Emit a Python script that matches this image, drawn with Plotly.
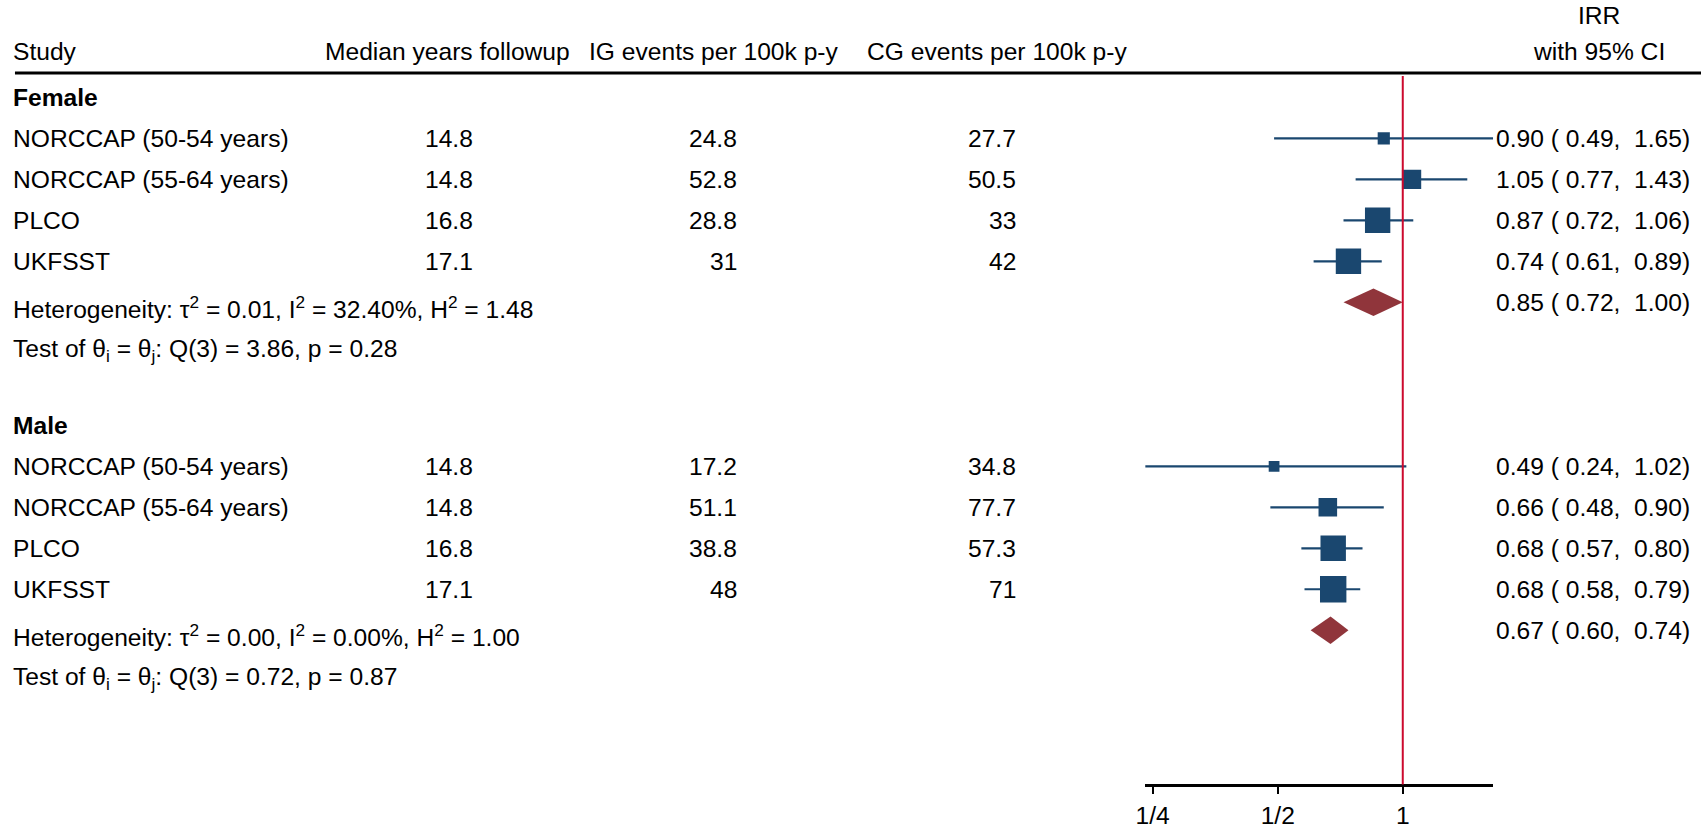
import math
import plotly.graph_objects as go

# ---- data -------------------------------------------------------------
studies = ["NORCCAP (50-54 years)", "NORCCAP (55-64 years)", "PLCO", "UKFSST"]

female_followup = [14.8, 14.8, 16.8, 17.1]
female_ig = [24.8, 52.8, 28.8, 31]
female_cg = [27.7, 50.5, 33, 42]
female_irr = [0.90, 1.05, 0.87, 0.74]
female_lo = [0.49, 0.77, 0.72, 0.61]
female_hi = [1.65, 1.43, 1.06, 0.89]
female_weight = [8.2, 20.6, 35.6, 35.6]
female_pooled = [0.85, 0.72, 1.00]
female_het = {"tau2": "0.01", "I2": "32.40%", "H2": "1.48", "Q": "3.86", "p": "0.28"}

male_followup = [14.8, 14.8, 16.8, 17.1]
male_ig = [17.2, 51.1, 38.8, 48]
male_cg = [34.8, 77.7, 57.3, 71]
male_irr = [0.49, 0.66, 0.68, 0.68]
male_lo = [0.24, 0.48, 0.57, 0.58]
male_hi = [1.02, 0.90, 0.80, 0.79]
male_weight = [6.4, 19.1, 35.8, 38.6]
male_pooled = [0.67, 0.60, 0.74]
male_het = {"tau2": "0.00", "I2": "0.00%", "H2": "1.00", "Q": "0.72", "p": "0.87"}

tick_vals = [0.25, 0.5, 1]
tick_text = ["1/4", "1/2", "1"]

# ---- styling ----------------------------------------------------------
W, H = 1701, 829
FONT = "Liberation Sans, Arial, Helvetica, sans-serif"
FS = 24.6
NAVY = "#1a476f"
MAROON = "#90353b"
REDLINE = "#cc0a2e"
NB = "\u00a0"

# column anchors (pixels)
X_LEFT = 2
X_FOLLOW = 468
X_IG = 734
X_CG = 1014
X_IRR = 1692


def px(x):
    return x / W


fig = go.Figure()
ann = []


def text(x, row, s, anchor="left", bold=False, yshift=0):
    ann.append(dict(
        x=px(x), y=row, xref="paper", yref="y", text=f"<b>{s}</b>" if bold else s,
        showarrow=False, xanchor=anchor, yanchor="middle", yshift=yshift,
        font=dict(family=FONT, size=FS, color="black"),
    ))


def fmt(v):
    return f"{v:g}"


def ci_text(est, lo, hi):
    return f"{est:.2f}{NB}({NB}{lo:.2f},{NB}{NB}{hi:.2f})"


def add_group(first_row, label, follow, ig, cg, irr, lo, hi, weight, pooled, het):
    text(X_LEFT, first_row, label, bold=True)
    rows = [first_row + 1 + i for i in range(len(studies))]
    for i, r in enumerate(rows):
        text(X_LEFT, r, studies[i])
        text(X_FOLLOW, r, fmt(follow[i]), anchor="right")
        text(X_IG, r, fmt(ig[i]), anchor="right")
        text(X_CG, r, fmt(cg[i]), anchor="right")
        text(X_IRR, r, ci_text(irr[i], lo[i], hi[i]), anchor="right")
        # confidence interval
        fig.add_trace(go.Scatter(
            x=[lo[i], hi[i]], y=[r, r], mode="lines",
            line=dict(color=NAVY, width=2.2), hoverinfo="skip", showlegend=False))
    # study estimates, square area proportional to weight
    fig.add_trace(go.Scatter(
        x=irr, y=rows, mode="markers",
        marker=dict(symbol="square", color=NAVY, opacity=1,
                    size=[4.25 * w ** 0.5 for w in weight], line=dict(width=0)),
        hoverinfo="skip", showlegend=False))
    # pooled estimate diamond
    pr = first_row + 1 + len(studies)
    est, plo, phi = pooled
    hh = 0.337
    fig.add_trace(go.Scatter(
        x=[plo, est, phi, est, plo], y=[pr, pr - hh, pr, pr + hh, pr],
        mode="lines", fill="toself", fillcolor=MAROON, line=dict(width=0, color=MAROON),
        hoverinfo="skip", showlegend=False))
    text(X_IRR, pr, ci_text(est, plo, phi), anchor="right")
    text(X_LEFT, pr, f"Heterogeneity: τ<sup>2</sup> = {het['tau2']}, I<sup>2</sup> = {het['I2']}, "
                     f"H<sup>2</sup> = {het['H2']}", yshift=-5)
    text(X_LEFT, pr + 1, f"Test of θ<sub>i</sub> = θ<sub>j</sub>: Q(3) = {het['Q']}, p = {het['p']}",
         yshift=-7)


add_group(0, "Female", female_followup, female_ig, female_cg, female_irr, female_lo,
          female_hi, female_weight, female_pooled, female_het)
add_group(8, "Male", male_followup, male_ig, male_cg, male_irr, male_lo,
          male_hi, male_weight, male_pooled, male_het)


# column headers (paper coordinates)
def head(x, y_px, s, anchor):
    ann.append(dict(
        x=px(x), y=1 - y_px / H, xref="paper", yref="paper", text=s,
        showarrow=False, xanchor=anchor, yanchor="middle",
        font=dict(family=FONT, size=FS, color="black"),
    ))


head(X_LEFT, 52, "Study", "left")
head(441, 52, "Median years followup", "center")
head(708, 52, "IG events per 100k p-y", "center")
head(993, 52, "CG events per 100k p-y", "center")
head(1598, 16, "IRR", "center")
head(1598, 52, "with 95% CI", "center")

shapes = [
    # rule under the header
    dict(type="line", xref="paper", yref="paper", x0=px(6), x1=1.0,
         y0=1 - 74 / H, y1=1 - 74 / H, line=dict(color="black", width=3)),
    # line of no effect
    dict(type="line", xref="x", yref="y domain", x0=1, x1=1, y0=0, y1=1,
         line=dict(color=REDLINE, width=2)),
]

x_lo, x_hi = 0.2395, 1.65

fig.update_layout(
    width=W, height=H, margin=dict(l=0, r=0, t=0, b=0),
    paper_bgcolor="white", plot_bgcolor="white",
    annotations=ann, shapes=shapes, showlegend=False,
    xaxis=dict(
        type="log", range=[math.log10(x_lo), math.log10(x_hi)],
        domain=[px(1142), px(1492)],
        tickvals=tick_vals, ticktext=tick_text,
        ticks="outside", ticklen=7, tickwidth=2, tickcolor="black",
        showline=True, linecolor="black", linewidth=2.5,
        showgrid=False, zeroline=False,
        tickfont=dict(family=FONT, size=FS, color="black"),
        fixedrange=True,
    ),
    yaxis=dict(
        range=[16.76, -0.518], domain=[1 - 794 / H, 1 - 77 / H],
        showticklabels=False, showgrid=False, zeroline=False, showline=False,
        ticks="", fixedrange=True,
    ),
)

fig.write_html("out.html")
